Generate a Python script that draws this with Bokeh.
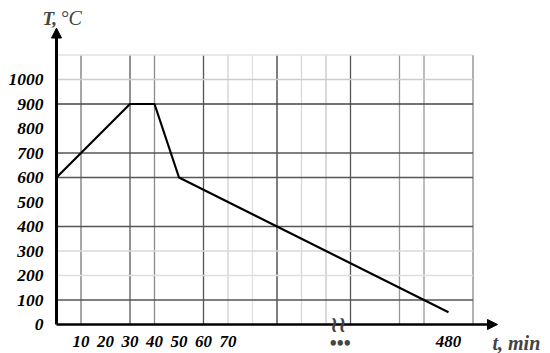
from bokeh.plotting import figure
from bokeh.models import Label, Arrow, NormalHead, FixedTicker, ColumnDataSource
from bokeh.embed import file_html
from bokeh.resources import INLINE

# ---- data -------------------------------------------------------------
time_min = [0, 30, 40, 50, 480]
temp_c = [600, 900, 900, 600, 50]

x_tick_values = [10, 20, 30, 40, 50, 60, 70, 480]
x_tick_labels = ["10", "20", "30", "40", "50", "60", "70", "480"]
y_tick_values = [0, 100, 200, 300, 400, 500, 600, 700, 800, 900, 1000]
y_tick_labels = ["0", "100", "200", "300", "400", "500", "600", "700", "800", "900", "1000"]

# ---- broken time axis -------------------------------------------------
BREAK_AT = 115      # axis position of the break mark
AXIS_SHIFT = 320    # minutes hidden by the break


def to_axis(t):
    return t if t <= BREAK_AT else t - AXIS_SHIFT


# ---- grid (axis units) ------------------------------------------------
vgrid_pos = [10, 30, 40, 60, 70, 80, 90, 100, 110, 120, 140, 150, 170]
vgrid_color = ["#777777", "#555555", "#8a8a8a", "#555555", "#d0d0d0", "#e0e0e0",
               "#3a3a3a", "#d8d8d8", "#c4c4c4", "#555555", "#999999", "#999999", "#888888"]
hgrid_pos = [100, 200, 300, 400, 600, 700, 900, 1000, 1100]
hgrid_color = ["#555555", "#dddddd", "#d8d8d8", "#555555", "#555555", "#555555",
               "#444444", "#cccccc", "#e0e0e0"]
GRID_X_END = 170
GRID_Y_END = 1100
X_TIP = 180
Y_TIP = 1210

# ---- layout -----------------------------------------------------------
W, H = 550, 353
PX_X, PX_Y = 2.45, 0.245
OX, OY = 56, 324   # origin inside canvas (px)

p = figure(width=W, height=H, output_backend="svg", toolbar_location=None,
           x_range=(-OX / PX_X, (W - OX) / PX_X),
           y_range=(-(H - OY) / PX_Y, OY / PX_Y),
           min_border=0, min_border_left=0, min_border_right=0,
           min_border_top=0, min_border_bottom=0)
p.outline_line_color = None
p.grid.visible = False
p.background_fill_color = "white"
p.border_fill_color = "white"

# grid lines
vsrc = ColumnDataSource(dict(x0=vgrid_pos, y0=[0] * len(vgrid_pos), x1=vgrid_pos,
                             y1=[GRID_Y_END] * len(vgrid_pos), c=vgrid_color))
p.segment(x0="x0", y0="y0", x1="x1", y1="y1", line_color="c", line_width=1.3, source=vsrc)
hsrc = ColumnDataSource(dict(x0=[0] * len(hgrid_pos), y0=hgrid_pos,
                             x1=[GRID_X_END] * len(hgrid_pos), y1=hgrid_pos, c=hgrid_color))
p.segment(x0="x0", y0="y0", x1="x1", y1="y1", line_color="c", line_width=1.3, source=hsrc)

# data line
p.line([to_axis(t) for t in time_min], temp_c, line_color="black", line_width=2.2)

# axes
SERIF = "Liberation Serif"
for ax in (p.xaxis[0], p.yaxis[0]):
    ax.fixed_location = 0
    ax.axis_line_color = None
    ax.major_tick_line_color = None
    ax.minor_tick_line_color = None
    ax.major_label_text_font = SERIF
    ax.major_label_text_font_style = "bold italic"
    ax.major_label_text_color = "black"

p.xaxis.ticker = FixedTicker(ticks=[to_axis(v) for v in x_tick_values])
p.xaxis.major_label_overrides = {to_axis(v): s for v, s in zip(x_tick_values, x_tick_labels)}
p.xaxis.major_label_text_font_size = "17px"
p.xaxis.major_label_standoff = 5

p.yaxis.ticker = FixedTicker(ticks=y_tick_values)
p.yaxis.major_label_overrides = {v: s for v, s in zip(y_tick_values, y_tick_labels)}
p.yaxis.major_label_text_font_size = "17.5px"
p.yaxis.major_label_standoff = 7

# axis arrows
p.add_layout(Arrow(end=NormalHead(size=10, fill_color="black", line_color="black"),
                   x_start=0, y_start=0, x_end=0, y_end=Y_TIP,
                   line_width=3, line_color="black"))
p.add_layout(Arrow(end=NormalHead(size=10, fill_color="black", line_color="black"),
                   x_start=0, y_start=0, x_end=X_TIP, y_end=0,
                   line_width=2.5, line_color="black"))

# axis titles
p.add_layout(Label(x=0, y=Y_TIP, x_offset=-14, y_offset=10, text="T,",
                   text_font=SERIF, text_font_style="bold italic", text_font_size="19px",
                   text_baseline="alphabetic", text_align="left"))
p.add_layout(Label(x=0, y=Y_TIP, x_offset=4, y_offset=10, text="°C",
                   text_font=SERIF, text_font_style="italic", text_font_size="20px",
                   text_baseline="alphabetic", text_align="left"))
p.add_layout(Label(x=X_TIP, y=0, x_offset=-5, y_offset=-18, text="t, min",
                   text_font=SERIF, text_font_style="bold italic", text_font_size="20px",
                   text_baseline="alphabetic", text_align="left"))

# break mark and ellipsis
p.add_layout(Label(x=BREAK_AT, y=0, text="≀≀", text_font="DejaVu Sans",
                   text_font_size="22px", text_font_style="bold",
                   text_align="center", text_baseline="middle"))
p.add_layout(Label(x=BREAK_AT, y=0, x_offset=2, y_offset=-18, text="•••",
                   text_font=SERIF, text_font_size="20px", text_font_style="bold",
                   text_align="center", text_baseline="middle"))

open("out.html", "w").write(file_html(p, INLINE))
